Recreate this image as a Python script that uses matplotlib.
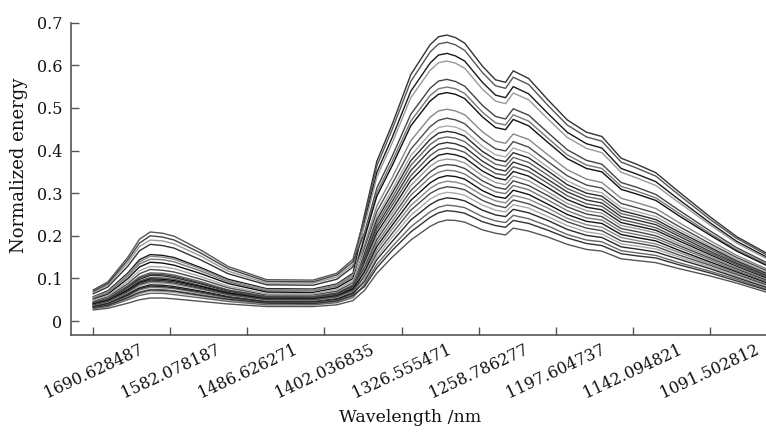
import matplotlib
matplotlib.use('Agg')
import matplotlib.pyplot as plt

# sample index of each reading (spectra are plotted against point index)
sample_index = [0, 19, 45, 60, 74, 90, 105, 140, 175, 225, 285, 316, 337,
                352, 368, 388, 412, 437, 448, 459, 470, 482, 505, 522, 535, 545, 565,
                590, 615, 640, 660, 685, 705, 730, 760, 800, 835, 873]

# wavelength labels shown every 100 points
wavelength_labels = ['1690.628487', '1582.078187', '1486.626271', '1402.036835',
                     '1326.555471', '1258.786277', '1197.604737', '1142.094821',
                     '1091.502812']

# normalized energy of each sample
spectrum_01 = [.064, .080, .129, .165, .180, .177, .171, .143, .111, .085, .084, .098, .127,
               .250, .375, .462, .578, .648, .667, .671, .665, .652, .598, .566, .560, .587, .569,
               .519, .472, .443, .433, .382, .368, .348, .303, .245, .198, .160]
spectrum_02 = [.073, .092, .150, .192, .209, .206, .199, .166, .128, .097, .096, .112, .145,
               .243, .364, .450, .562, .631, .650, .654, .648, .635, .583, .552, .546, .572, .555,
               .506, .460, .432, .422, .373, .359, .340, .296, .239, .194, .156]
spectrum_03 = [.057, .071, .113, .144, .156, .154, .149, .125, .098, .076, .075, .087, .112,
               .232, .349, .431, .539, .605, .624, .628, .622, .610, .560, .530, .524, .550, .533,
               .487, .443, .416, .406, .358, .345, .327, .285, .231, .187, .151]
spectrum_04 = [.067, .085, .137, .175, .190, .188, .181, .152, .117, .089, .089, .103, .133,
               .225, .338, .418, .524, .588, .606, .610, .605, .593, .544, .516, .510, .535, .519,
               .474, .431, .405, .395, .349, .336, .318, .278, .226, .183, .147]
spectrum_05 = [.070, .088, .144, .183, .200, .197, .190, .159, .123, .093, .092, .108, .139,
               .207, .312, .387, .485, .546, .563, .567, .562, .551, .506, .480, .474, .498, .483,
               .442, .402, .377, .368, .325, .314, .297, .260, .212, .172, .138]
spectrum_06 = [.054, .067, .106, .134, .145, .144, .139, .117, .092, .071, .071, .082, .105,
               .200, .301, .375, .469, .529, .545, .549, .545, .534, .490, .465, .460, .484, .469,
               .429, .390, .366, .358, .316, .305, .289, .253, .206, .167, .134]
spectrum_07 = [.051, .063, .100, .127, .138, .136, .131, .111, .088, .068, .067, .078, .100,
               .195, .293, .365, .458, .516, .532, .536, .532, .522, .479, .454, .449, .473, .458,
               .419, .381, .358, .350, .309, .298, .283, .247, .202, .164, .131]
spectrum_08 = [.056, .069, .110, .139, .152, .150, .145, .122, .095, .074, .073, .085, .109,
               .179, .270, .337, .423, .478, .493, .497, .493, .484, .444, .422, .417, .439, .426,
               .390, .355, .333, .325, .288, .278, .264, .231, .189, .154, .123]
spectrum_09 = [.046, .057, .088, .111, .121, .119, .115, .098, .078, .061, .061, .070, .090,
               .170, .257, .322, .403, .456, .471, .476, .472, .463, .425, .404, .399, .421, .408,
               .374, .341, .319, .312, .276, .266, .253, .222, .182, .149, .119]
spectrum_10 = [.049, .060, .094, .118, .128, .127, .123, .104, .082, .064, .064, .074, .095,
               .163, .246, .309, .388, .439, .454, .458, .455, .446, .410, .390, .385, .406, .394,
               .361, .329, .308, .301, .266, .257, .245, .215, .177, .145, .115]
spectrum_11 = [.042, .051, .079, .098, .107, .106, .102, .087, .070, .055, .055, .063, .081,
               .157, .238, .300, .376, .426, .441, .445, .442, .434, .398, .379, .374, .395, .383,
               .352, .320, .300, .293, .259, .250, .238, .209, .173, .141, .112]
spectrum_12 = [.044, .054, .083, .104, .113, .112, .108, .092, .073, .058, .058, .066, .085,
               .152, .230, .290, .365, .414, .428, .432, .429, .421, .387, .368, .363, .384, .372,
               .342, .311, .292, .285, .252, .244, .232, .204, .169, .138, .109]
spectrum_13 = [.039, .047, .071, .088, .096, .095, .092, .078, .064, .051, .051, .058, .074,
               .147, .222, .281, .353, .401, .415, .419, .416, .408, .375, .357, .352, .373, .361,
               .332, .303, .284, .277, .245, .237, .226, .199, .164, .135, .107]
spectrum_14 = [.041, .049, .075, .094, .102, .101, .098, .083, .067, .054, .053, .061, .078,
               .141, .215, .272, .341, .388, .402, .406, .403, .396, .364, .346, .342, .362, .351,
               .323, .294, .275, .269, .238, .230, .219, .193, .160, .132, .104]
spectrum_15 = [.035, .042, .064, .078, .085, .084, .081, .070, .058, .047, .046, .053, .067,
               .136, .207, .262, .330, .375, .389, .393, .390, .383, .352, .336, .331, .351, .340,
               .313, .285, .267, .261, .231, .223, .213, .188, .156, .128, .101]
spectrum_16 = [.037, .044, .067, .083, .090, .089, .086, .074, .060, .048, .048, .055, .070,
               .131, .199, .253, .318, .363, .376, .380, .378, .371, .341, .325, .320, .340, .329,
               .303, .276, .259, .253, .224, .217, .207, .182, .152, .125, .098]
spectrum_17 = [.043, .052, .081, .101, .110, .109, .105, .089, .072, .057, .056, .065, .083,
               .125, .191, .244, .306, .350, .363, .367, .365, .358, .329, .314, .309, .329, .318,
               .294, .268, .251, .245, .217, .210, .200, .177, .148, .122, .096]
spectrum_18 = [.034, .040, .059, .073, .079, .078, .076, .065, .054, .044, .044, .050, .064,
               .120, .183, .234, .295, .337, .349, .354, .352, .345, .318, .303, .299, .318, .308,
               .284, .259, .242, .237, .210, .203, .194, .172, .144, .118, .093]
spectrum_19 = [.040, .048, .073, .091, .099, .098, .095, .081, .066, .052, .052, .059, .076,
               .115, .175, .225, .283, .324, .336, .341, .339, .333, .306, .292, .288, .307, .297,
               .274, .250, .234, .229, .203, .196, .188, .166, .139, .115, .090]
spectrum_20 = [.032, .038, .056, .068, .074, .074, .071, .062, .051, .042, .042, .048, .061,
               .109, .167, .216, .271, .311, .323, .328, .326, .320, .295, .282, .277, .295, .286,
               .265, .241, .226, .220, .196, .189, .181, .161, .135, .112, .087]
spectrum_21 = [.038, .046, .069, .086, .093, .092, .089, .076, .062, .050, .050, .057, .072,
               .104, .159, .206, .260, .299, .310, .315, .313, .308, .283, .271, .266, .284, .275,
               .255, .233, .218, .212, .188, .183, .175, .155, .131, .109, .085]
spectrum_22 = [.031, .036, .053, .064, .070, .069, .067, .058, .049, .040, .040, .045, .058,
               .099, .151, .197, .248, .286, .297, .302, .300, .295, .272, .260, .256, .273, .265,
               .245, .224, .209, .204, .181, .176, .169, .150, .127, .105, .082]
spectrum_23 = [.034, .041, .061, .076, .082, .081, .078, .068, .056, .045, .045, .051, .065,
               .093, .144, .187, .237, .273, .284, .289, .287, .282, .260, .249, .245, .262, .254,
               .236, .215, .201, .196, .174, .169, .162, .145, .123, .102, .079]
spectrum_24 = [.029, .034, .050, .060, .065, .065, .062, .054, .046, .038, .038, .043, .055,
               .086, .133, .175, .221, .256, .267, .272, .270, .266, .245, .235, .231, .248, .240,
               .223, .203, .190, .186, .165, .160, .154, .137, .117, .098, .075]
spectrum_25 = [.032, .037, .055, .067, .073, .072, .070, .060, .051, .042, .041, .047, .060,
               .081, .125, .166, .209, .243, .254, .259, .257, .253, .233, .224, .220, .236, .229,
               .213, .195, .182, .177, .158, .153, .148, .132, .113, .094, .073]
spectrum_26 = [.026, .030, .042, .050, .054, .054, .052, .046, .040, .034, .034, .038, .048,
               .072, .112, .150, .190, .222, .232, .237, .236, .232, .214, .206, .202, .218, .211,
               .197, .180, .168, .164, .146, .142, .137, .123, .106, .089, .068]

spectra = [spectrum_01, spectrum_02, spectrum_03, spectrum_04, spectrum_05,
           spectrum_06, spectrum_07, spectrum_08, spectrum_09, spectrum_10,
           spectrum_11, spectrum_12, spectrum_13, spectrum_14, spectrum_15,
           spectrum_16, spectrum_17, spectrum_18, spectrum_19, spectrum_20,
           spectrum_21, spectrum_22, spectrum_23, spectrum_24, spectrum_25,
           spectrum_26]

grays = ['#333333', '#555555', '#1a1a1a', '#999999', '#444444', '#777777',
         '#111111', '#888888', '#4a4a4a', '#aaaaaa', '#2a2a2a', '#666666']

plt.rcParams['font.family'] = 'DejaVu Serif'

fig = plt.figure(figsize=(7.66, 4.32), dpi=100)
ax = fig.add_axes([0.0923, 0.2238, 0.9077, 0.7237])

for i, s in enumerate(spectra):
    ax.plot(sample_index, s, color=grays[i % len(grays)], lw=1.0)

ax.set_xlim(-29.3, 873)
ax.set_ylim(-0.0335, 0.70)

ax.set_xticks(range(0, 100 * len(wavelength_labels), 100))
ax.set_xticklabels(wavelength_labels, rotation=25, ha='center')
ax.set_yticks([0, 0.1, 0.2, 0.3, 0.4, 0.5, 0.6, 0.7])
ax.set_yticklabels(['0', '0.1', '0.2', '0.3', '0.4', '0.5', '0.6', '0.7'])

ax.tick_params(direction='in', length=6, width=1, colors='#555555',
               labelcolor='#111111', labelsize=11.5)
ax.tick_params(axis='x', pad=4)
ax.tick_params(axis='y', pad=6)
for side in ['top', 'right']:
    ax.spines[side].set_visible(False)
for side in ['left', 'bottom']:
    ax.spines[side].set_color('#555555')
    ax.spines[side].set_linewidth(1.2)

ax.set_xlabel('Wavelength /nm', fontsize=12.5, color='#111111')
ax.set_ylabel('Normalized energy', fontsize=13, color='#111111')
ax.xaxis.set_label_coords(0.488, -0.235)
ax.yaxis.set_label_coords(-0.062, 0.545)

fig.savefig('out.png', dpi=100)
